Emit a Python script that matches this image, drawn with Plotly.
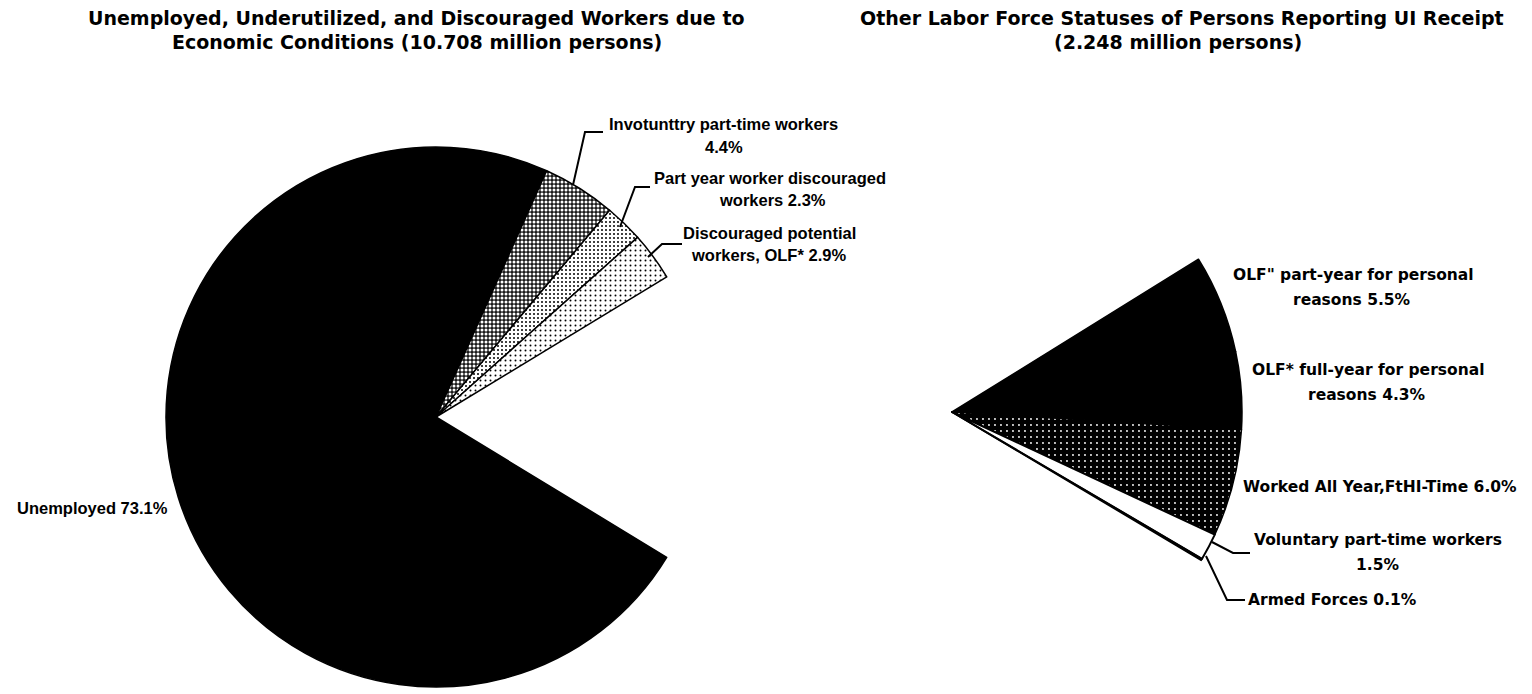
import plotly.graph_objects as go

W, H = 1532, 694

# ---------------- data ----------------
left_labels = ["Unemployed", "Involuntary part-time workers",
               "Part year worker discouraged workers", "Discouraged potential workers, OLF*"]
left_values = [73.1, 4.4, 2.3, 2.9]

right_labels = ["OLF\" part-year for personal reasons", "OLF* full-year for personal reasons",
                "Worked All Year, Full-Time", "Voluntary part-time workers", "Armed Forces"]
right_values = [5.5, 4.3, 6.0, 1.5, 0.1]

left_title = ["Unemployed, Underutilized, and Discouraged Workers due to",
              "Economic Conditions (10.708 million persons)"]
right_title = ["Other Labor Force Statuses of Persons Reporting UI Receipt",
               "(2.248 million persons)"]

left_text = [["Unemployed 73.1%"],
             ["Invotunttry part-time workers", "4.4%"],
             ["Part year worker discouraged", "workers 2.3%"],
             ["Discouraged potential", "workers, OLF* 2.9%"]]
right_text = [["OLF\" part-year for personal", "reasons 5.5%"],
              ["OLF* full-year for personal", "reasons 4.3%"],
              ["Worked All Year,FtHI-Time 6.0%"],
              ["Voluntary part-time workers", "1.5%"],
              ["Armed Forces 0.1%"]]

# ---------------- helpers ----------------
OFF = 8  # page body margin offset

def px(x):
    return (x - OFF) / W

def py(y):
    return 1 - (y - OFF) / H

CLEAR = "rgba(0,0,0,0)"

fig = go.Figure()

# Left pie: shown slices plus an invisible slice equal to the right-hand share
lv = left_values + [round(sum(right_values), 1)]
ll = left_labels + ["(other statuses)"]
fig.add_trace(go.Pie(
    values=lv, labels=ll, sort=False, direction="clockwise", rotation=121.3,
    textinfo="none", hoverinfo="label+value", showlegend=False,
    domain=dict(x=[px(166), px(706)], y=[py(687), py(147)]),
    marker=dict(
        colors=["#000000", "#555555", "#cccccc", "#e0e0e0", CLEAR],
        line=dict(color="#000000", width=[1.5, 1.5, 1.5, 1.5, 0]),
        pattern=dict(
            shape=["", ".", ".", ".", ""],
            bgcolor=["#000000", "#1a1a1a", "#ffffff", "#ffffff", CLEAR],
            fgcolor=["#000000", "#ffffff", "#000000", "#000000", CLEAR],
            size=[6, 4, 4, 5, 6],
            solidity=[0.3, 0.45, 0.2, 0.12, 0.3],
        ),
    ),
))

# Right pie: shown slices plus an invisible slice equal to the left-hand share
rv = right_values + [round(sum(left_values), 1)]
rl = right_labels + ["(economic conditions)"]
fig.add_trace(go.Pie(
    values=rv, labels=rl, sort=False, direction="clockwise", rotation=58.2,
    textinfo="none", hoverinfo="label+value", showlegend=False,
    domain=dict(x=[px(662), px(1242)], y=[py(702), py(122)]),
    marker=dict(
        colors=["#000000", "#000000", "#333333", "#ffffff", "#000000", CLEAR],
        line=dict(color="#000000", width=[1.5, 1.5, 1.5, 2, 1.5, 0]),
        pattern=dict(
            shape=["", "", ".", "", "", ""],
            bgcolor=["#000000", "#000000", "#000000", "#ffffff", "#000000", CLEAR],
            fgcolor=["#000000", "#000000", "#ffffff", "#ffffff", "#000000", CLEAR],
            size=[6, 6, 6, 6, 6, 6],
            solidity=[0.3, 0.3, 0.08, 0.3, 0.3, 0.3],
        ),
    ),
))

annotations = []

def add_text(txt, x, y, family, size, xanchor="center"):
    annotations.append(dict(
        text=txt, x=px(x), y=py(y), xref="paper", yref="paper",
        xanchor=xanchor, yanchor="middle", showarrow=False,
        font=dict(family=family, size=size, color="#000000", weight="bold"),
    ))

TF = "DejaVu Sans"
# titles
add_text(left_title[0], 417, 18, TF, 19)
add_text(left_title[1], 417, 42, TF, 19)
add_text(right_title[0], 1182, 18, TF, 19)
add_text(right_title[1], 1178, 42, TF, 19)

LF = "Liberation Sans, Arial, sans-serif"
left_pos = [[(92, 508)], [(723, 124), (724, 147)], [(770, 178), (772, 200)],
            [(769, 233), (768, 255)]]
for lines, pos in zip(left_text, left_pos):
    for t, (x, y) in zip(lines, pos):
        add_text(t, x, y, LF, 16.5)

RF = "DejaVu Sans"
right_pos = [[(1353, 275), (1352, 300)], [(1368, 370), (1367, 395)], [(1380, 487)],
             [(1378, 540), (1377, 565)], [(1246, 600)]]
for i, (lines, pos) in enumerate(zip(right_text, right_pos)):
    for t, (x, y) in zip(lines, pos):
        add_text(t, x, y, RF, 15.5, xanchor="left" if i == 4 else "center")

# leader lines
leaders = [
    [(603, 132), (585, 132), (573, 185)],
    [(650, 187), (635, 187), (620, 227)],
    [(682, 244), (662, 244), (648, 257)],
    [(1250, 553), (1233, 553), (1212, 542)],
    [(1245, 600), (1227, 600), (1206, 556)],
]
shapes = []
for pts in leaders:
    path = "M " + " L ".join(f"{px(x):.5f},{py(y):.5f}" for x, y in pts)
    shapes.append(dict(type="path", path=path, xref="paper", yref="paper",
                       line=dict(color="#000000", width=2)))

fig.update_layout(
    width=W, height=H, margin=dict(l=0, r=0, t=0, b=0),
    paper_bgcolor="#ffffff", plot_bgcolor="#ffffff",
    annotations=annotations, shapes=shapes, showlegend=False,
)

fig.write_html("out.html")
